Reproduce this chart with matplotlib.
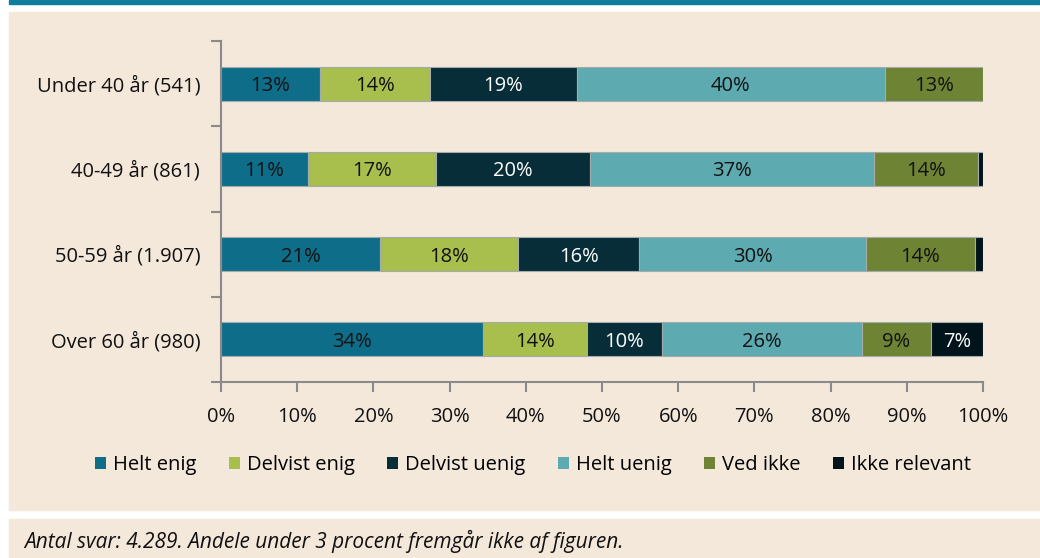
import numpy as np
import matplotlib
matplotlib.use('Agg')
import matplotlib.pyplot as plt
from matplotlib.patches import Rectangle, Patch

# Data (percent shares per age group)
groups = ["Under 40 år (541)", "40-49 år (861)", "50-59 år (1.907)", "Over 60 år (980)"]
series_names = ["Helt enig", "Delvist enig", "Delvist uenig", "Helt uenig", "Ved ikke", "Ikke relevant"]
helt_enig = [13.0, 11.4, 20.9, 34.4]
delvist_enig = [14.4, 16.8, 18.1, 13.6]
delvist_uenig = [19.3, 20.2, 15.9, 9.9]
helt_uenig = [40.4, 37.3, 29.7, 26.2]
ved_ikke = [12.9, 13.7, 14.4, 9.1]
ikke_relevant = [0.0, 0.6, 1.0, 6.8]
xticks = [0, 10, 20, 30, 40, 50, 60, 70, 80, 90, 100]
footnote = "Antal svar: 4.289. Andele under 3 procent fremgår ikke af figuren."

colors = ["#0E6E8A", "#A8BF4E", "#062D38", "#5DAAB0", "#6E8434", "#02141B"]
text_colors = ["#111111", "#111111", "white", "#111111", "#111111", "white"]
bg = "#F4E8DB"
axis_col = "#8A8A8A"
fs = 14.5

plt.rcParams['font.family'] = ['Open Sans', 'DejaVu Sans']

W, H = 1040, 558
fig = plt.figure(figsize=(W / 100, H / 100), dpi=100, facecolor="white")

def px_rect(x0, y0, x1, y1, color):
    fig.patches.append(Rectangle((x0 / W, 1 - y1 / H), (x1 - x0) / W, (y1 - y0) / H,
                                 transform=fig.transFigure, color=color, zorder=-10))

px_rect(9, 0, W, 3.5, "#0E7E9A")   # top rule
px_rect(9, 12, W, 510, bg)         # chart panel
px_rect(9, 519, W, H, bg)          # footnote panel

ax = fig.add_axes([221 / W, 1 - 382 / H, 762 / W, 341 / H])
ax.set_facecolor("none")
ax.set_zorder(5)

data = [helt_enig, delvist_enig, delvist_uenig, helt_uenig, ved_ikke, ikke_relevant]
y = np.arange(len(groups))
left = np.zeros(len(groups))
for vals, col, tcol in zip(data, colors, text_colors):
    vals = np.array(vals)
    ax.barh(y, vals, left=left, height=0.4, color=col, edgecolor="#A3ABAB", linewidth=0.8)
    for yi, (l, v) in enumerate(zip(left, vals)):
        if v >= 3:
            ax.text(l + v / 2, yi, f"{round(v):.0f}%", ha="center", va="center_baseline",
                    color=tcol, fontsize=fs)
    left += vals

ax.set_xlim(0, 100)
ax.set_ylim(len(groups) - 0.5, -0.5)
ax.set_xticks(xticks)
ax.set_xticklabels([f"{t}%" for t in xticks])
ax.set_yticks(y)
ax.set_yticklabels(groups)
ax.set_yticks(np.arange(-0.5, len(groups), 1), minor=True)
ax.tick_params(axis="y", which="major", length=0, pad=15, labelsize=fs, colors="#111111")
ax.tick_params(axis="y", which="minor", length=7, width=1.5, color=axis_col, direction="out")
ax.tick_params(axis="x", length=7, width=1.5, color=axis_col, labelsize=fs,
               labelcolor="#111111", pad=11)
for s in ["top", "right"]:
    ax.spines[s].set_visible(False)
for s in ["left", "bottom"]:
    ax.spines[s].set_color(axis_col)
    ax.spines[s].set_linewidth(1.5)

handles = [Patch(facecolor=c, edgecolor="none") for c in colors]
fig.legend(handles, series_names, loc="center", bbox_to_anchor=(533 / W, 1 - 465 / H),
           ncol=6, frameon=False, fontsize=fs, handlelength=0.55, handleheight=0.55,
           handletextpad=0.35, columnspacing=1.6)

fig.text(24 / W, 1 - 541 / H, footnote, ha="left", va="center", fontsize=15,
         style="italic", color="#111111")

fig.savefig("out.png", dpi=100, facecolor="white")
